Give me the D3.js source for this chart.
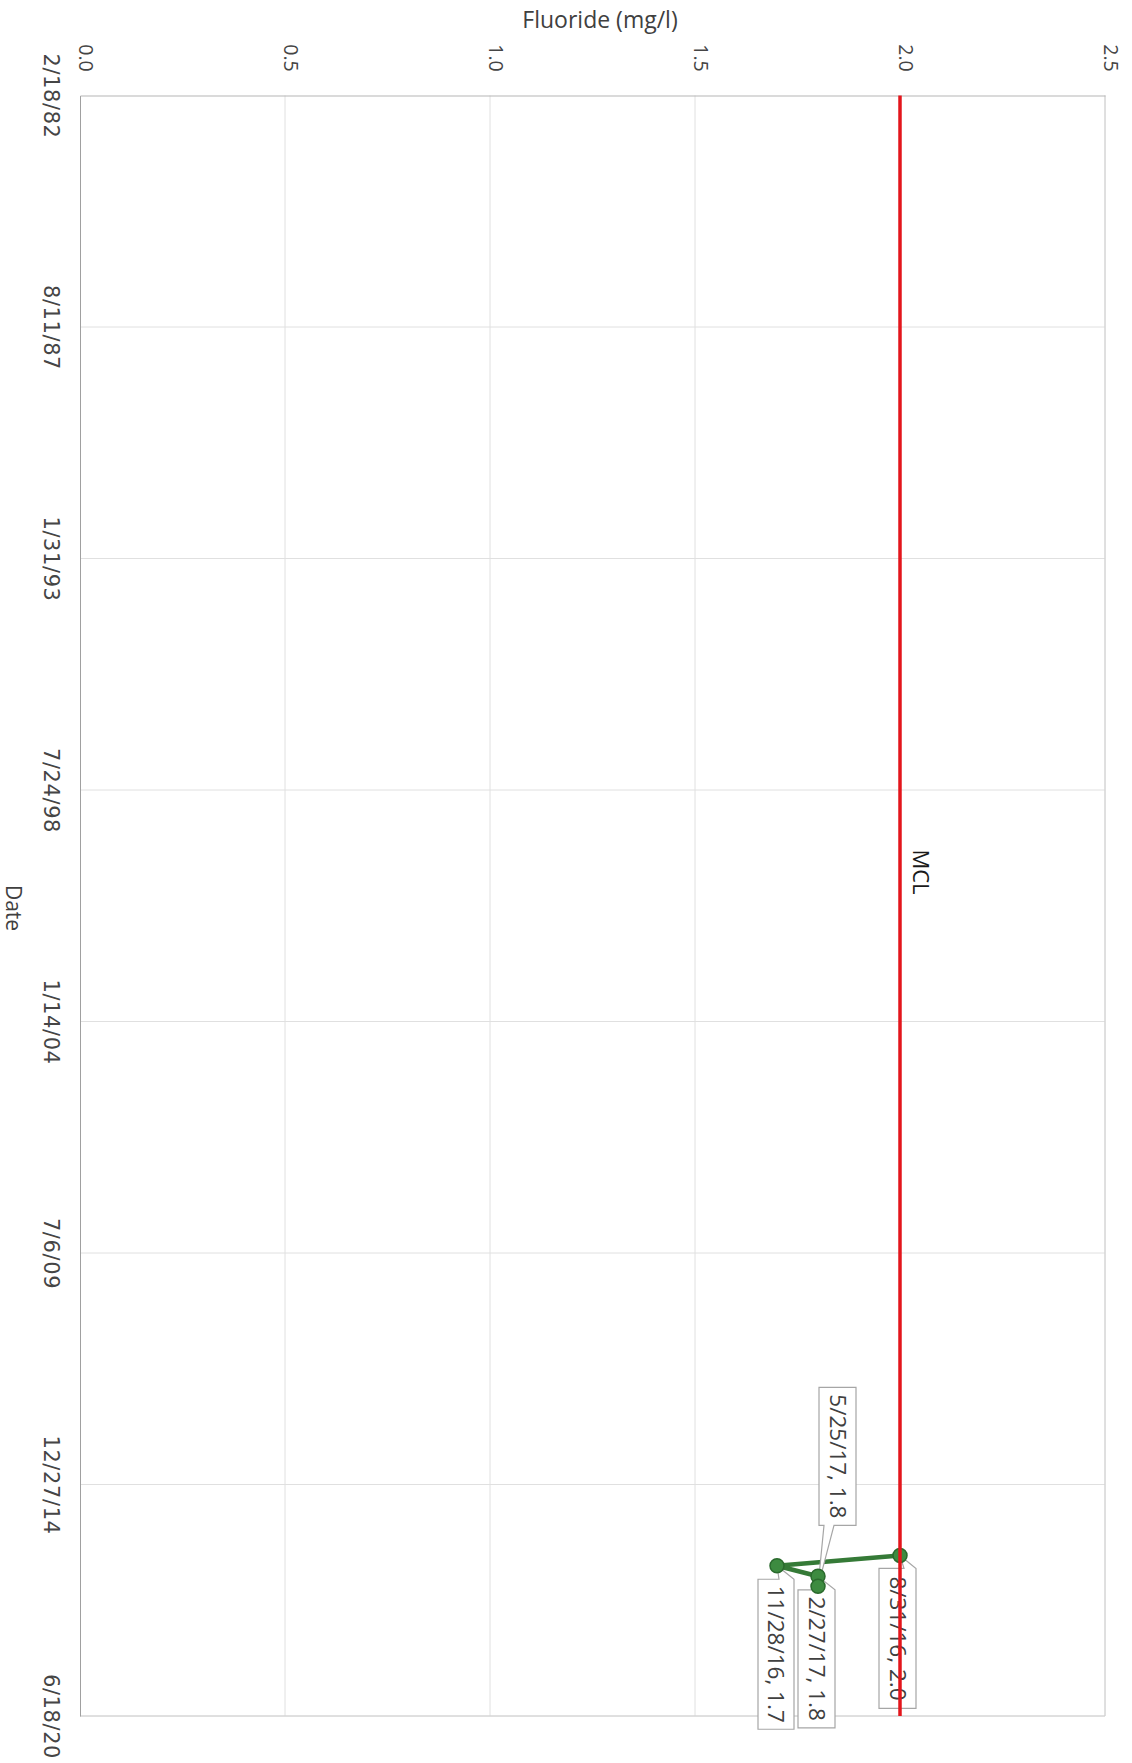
<!DOCTYPE html>
<html>
<head>
<meta charset="utf-8">
<script src="https://cdn.jsdelivr.net/npm/d3@7"></script>
<style>
  html, body { margin: 0; padding: 0; background: #fff; }
  svg { display: block; }
  text { font-family: "Open Sans", sans-serif; }
</style>
</head>
<body>
<svg id="chart" width="1132" height="1763"></svg>
<script>
// Fluoride sampling results (mg/l)
const sampleDates = ["2016-08-31", "2016-11-28", "2017-02-27", "2017-05-25"];
const fluorideValues = [2.0, 1.7, 1.8, 1.8];
const sampleLabels = ["8/31/16, 2.0", "11/28/16, 1.7", "2/27/17, 1.8", "5/25/17, 1.8"];

// Maximum contaminant level
const mclDates = ["1982-02-18", "2020-06-18"];
const mclValues = [2.0, 2.0];

// Axis ticks
const dateTickValues = ["1982-02-18", "1987-08-11", "1993-01-31", "1998-07-24",
                        "2004-01-14", "2009-07-06", "2014-12-27", "2020-06-18"];
const dateTickLabels = ["2/18/82", "8/11/87", "1/31/93", "7/24/98",
                        "1/14/04", "7/6/09", "12/27/14", "6/18/20"];
const valueTicks = [0.0, 0.5, 1.0, 1.5, 2.0, 2.5];

// Callout placement relative to each point (layout only)
const calloutLayout = [
  { dx: -21, dy: 13,   w: 37, h: 140, side: "top",    b1: 4, b2: 16 },
  { dx: -19, dy: 13.5, w: 36, h: 150, side: "top",    b1: 2, b2: 17 },
  { dx: -20, dy: 13.5, w: 37, h: 138, side: "top",    b1: 2, b2: 17 },
  { dx: 1,   dy: -199, w: 37, h: 138, side: "bottom", b1: 6, b2: 16 }
];

const parse = d3.timeParse("%Y-%m-%d");
const svg = d3.select("#chart");

// The chart is laid out turned a quarter turn: dates run down, values run across.
const x = d3.scaleLinear().domain([0, 2.5]).range([80, 1105]);
const y = d3.scaleTime()
  .domain([parse(dateTickValues[0]), parse(dateTickValues[dateTickValues.length - 1])])
  .range([95.5, 1716]);

const [plotTop, plotBottom] = y.range();
const [plotLeft, plotRight] = x.range();

// Gridlines
const grid = svg.append("g").attr("stroke", "#e0e0e0").attr("stroke-width", 1);
grid.selectAll(".vg").data(valueTicks.slice(1)).join("line")
  .attr("x1", d => x(d)).attr("x2", d => x(d))
  .attr("y1", plotTop).attr("y2", plotBottom);
grid.selectAll(".hg").data(dateTickValues.slice(1)).join("line")
  .attr("x1", plotLeft).attr("x2", plotRight)
  .attr("y1", d => y(parse(d))).attr("y2", d => y(parse(d)));

// Plot frame (right and bottom)
svg.append("line").attr("x1", plotRight).attr("x2", plotRight).attr("y1", plotTop).attr("y2", plotBottom)
  .attr("stroke", "#d0d0d0");
svg.append("line").attr("x1", plotLeft).attr("x2", plotRight).attr("y1", plotBottom).attr("y2", plotBottom)
  .attr("stroke", "#d0d0d0");

// Date axis
const dateAxis = d3.axisLeft(y)
  .tickValues(dateTickValues.map(parse))
  .tickFormat((d, i) => dateTickLabels[i])
  .tickSize(0).tickPadding(0);
const gDate = svg.append("g").attr("transform", `translate(${plotLeft},0)`).call(dateAxis);
gDate.select(".domain").attr("stroke", "#a0a0a0");
gDate.selectAll(".tick text")
  .attr("x", null).attr("dy", null)
  .attr("text-anchor", "middle")
  .attr("transform", "translate(-36,0) rotate(90)")
  .style("font-family", "'DejaVu Sans', sans-serif")
  .style("font-size", "21px")
  .style("letter-spacing", "0.6px")
  .attr("fill", "#454545");

// Value axis
const valueAxis = d3.axisTop(x)
  .tickValues(valueTicks)
  .tickFormat(d3.format(".1f"))
  .tickSize(0).tickPadding(0);
const gVal = svg.append("g").attr("transform", `translate(0,${plotTop})`).call(valueAxis);
gVal.select(".domain").attr("stroke", "#b5b5b5");
gVal.selectAll(".tick text")
  .attr("y", null).attr("dy", null)
  .attr("text-anchor", "middle")
  .attr("transform", "translate(-2,-37.5) rotate(90)")
  .style("font-family", "'Open Sans', sans-serif")
  .style("font-size", "19.5px")
  .attr("fill", "#454545");

// Axis titles
svg.append("text")
  .attr("x", 600).attr("y", 28)
  .attr("text-anchor", "middle")
  .style("font-size", "23px")
  .attr("fill", "#404040")
  .text("Fluoride (mg/l)");
svg.append("text")
  .attr("text-anchor", "middle")
  .attr("transform", "translate(6,908) rotate(90)")
  .style("font-size", "21px")
  .attr("fill", "#404040")
  .text("Date");

// Sample series
const samples = sampleDates.map((d, i) => ({
  date: parse(d), value: fluorideValues[i], label: sampleLabels[i], lay: calloutLayout[i]
}));

const line = d3.line().x(d => x(d.value)).y(d => y(d.date));
svg.append("path").datum(samples)
  .attr("d", line)
  .attr("fill", "none")
  .attr("stroke", "#357a37")
  .attr("stroke-width", 4.5)
  .attr("stroke-linejoin", "round");

// Data callouts
function calloutPath(px, py, L) {
  const l = px + L.dx, t = py + L.dy, r = l + L.w, b = t + L.h;
  const a1 = px + L.b1, a2 = px + L.b2;
  if (L.side === "top") {
    return `M${l},${t}L${a1},${t}L${px},${py}L${a2},${t}L${r},${t}L${r},${b}L${l},${b}Z`;
  }
  return `M${l},${t}L${r},${t}L${r},${b}L${a2},${b}L${px},${py}L${a1},${b}L${l},${b}Z`;
}
const callouts = svg.append("g").selectAll("g").data(samples).join("g");
callouts.append("path")
  .attr("d", d => calloutPath(x(d.value), y(d.date), d.lay))
  .attr("fill", "#fff")
  .attr("stroke", "#a6a6a6")
  .attr("stroke-width", 1.2);
callouts.append("text")
  .attr("text-anchor", "middle")
  .attr("dy", "0.35em")
  .attr("transform", d => {
    const cx = x(d.value) + d.lay.dx + d.lay.w / 2;
    const cy = y(d.date) + d.lay.dy + d.lay.h / 2;
    return `translate(${cx},${cy}) rotate(90)`;
  })
  .style("font-size", "22.5px")
  .attr("fill", "#404040")
  .text(d => d.label);

// Markers
svg.append("g").selectAll("circle").data(samples).join("circle")
  .attr("cx", d => x(d.value))
  .attr("cy", d => y(d.date))
  .attr("r", 7)
  .attr("fill", "#3d8b40")
  .attr("stroke", "#2a6a2d")
  .attr("stroke-width", 1.5);

// MCL line
const mcl = mclDates.map((d, i) => ({ date: parse(d), value: mclValues[i] }));
svg.append("path").datum(mcl)
  .attr("d", line)
  .attr("fill", "none")
  .attr("stroke", "#e3161c")
  .attr("stroke-width", 3.5);

svg.append("text")
  .attr("text-anchor", "middle")
  .attr("dy", "0.35em")
  .attr("transform", `translate(${x(mclValues[0]) + 21},872) rotate(90)`)
  .style("font-size", "22px")
  .attr("fill", "#1a1a1a")
  .text("MCL");
</script>
</body>
</html>
